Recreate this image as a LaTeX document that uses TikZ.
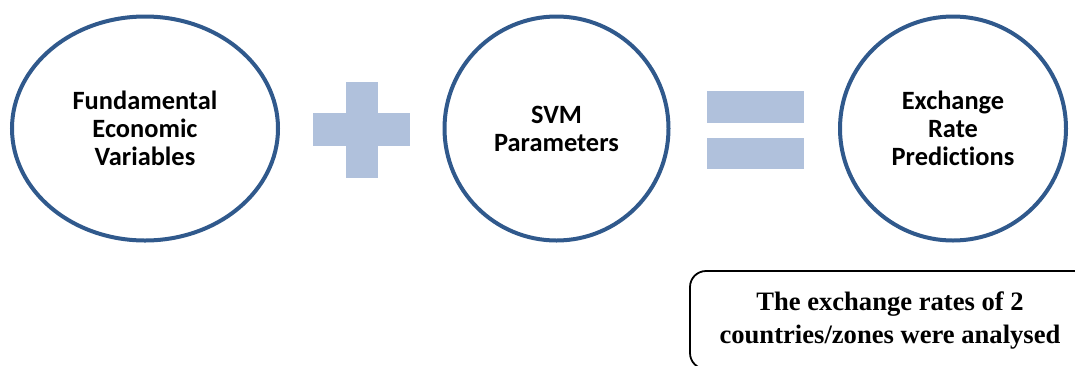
\documentclass[tikz,border=0pt]{standalone}
\usepackage{fontspec}
\usepackage{tikz}
\usetikzlibrary{%
	shapes.geometric,%
	positioning
}
\newfontfamily\calibrifont[Ligatures=CommonOff]{Carlito}
\newfontfamily\timesfont{Liberation Serif}
\definecolor{ringblue}{HTML}{30598C}
\definecolor{signblue}{HTML}{B0C1DC}

\begin{document}
\begin{tikzpicture}[x=0.5pt,y=-0.5pt,
		ring/.style={ellipse,draw=ringblue,line width=2pt,inner sep=0pt,
			align=center,font=\calibrifont\bfseries\fontsize{13.2}{14}\selectfont},
		signbar/.style={rectangle,fill=signblue,inner sep=0pt},
		notebox/.style={rectangle,draw=black,line width=0.9pt,rounded corners=8pt,
			align=center,font=\timesfont\bfseries\fontsize{13.3}{16.5}\selectfont}]
			\clip (0,0) rectangle (1075,365);
			\node[ring,minimum width=133pt,minimum height=112pt] (fund) at (145,128.5)
			{Fundamental\\Economic\\Variables};
			\node[ring,minimum width=112pt,minimum height=112pt] (svm) at (556.5,128.5)
			{SVM\\Parameters};
			\node[ring,minimum width=113pt,minimum height=112pt] (pred) at (953,128.5)
			{Exchange\\Rate\\Predictions};
			%
			\node[signbar,minimum width=48.5pt,minimum height=16.5pt] (plush) at (361.5,129.5) {};
			\node[signbar,minimum width=16pt,minimum height=48pt] (plusv) at (362,130) {};
			\node[signbar,minimum width=48.5pt,minimum height=16pt] (eqtop) at (755.5,107) {};
			\node[signbar,minimum width=48.5pt,minimum height=15.5pt] (eqbot) at (755.5,153.5) {};
			%
			\node[notebox,minimum width=200pt,minimum height=49pt] (note) at (890,320)
			{The exchange rates of 2\\countries/zones were analysed};
		\end{tikzpicture}
\end{document}
